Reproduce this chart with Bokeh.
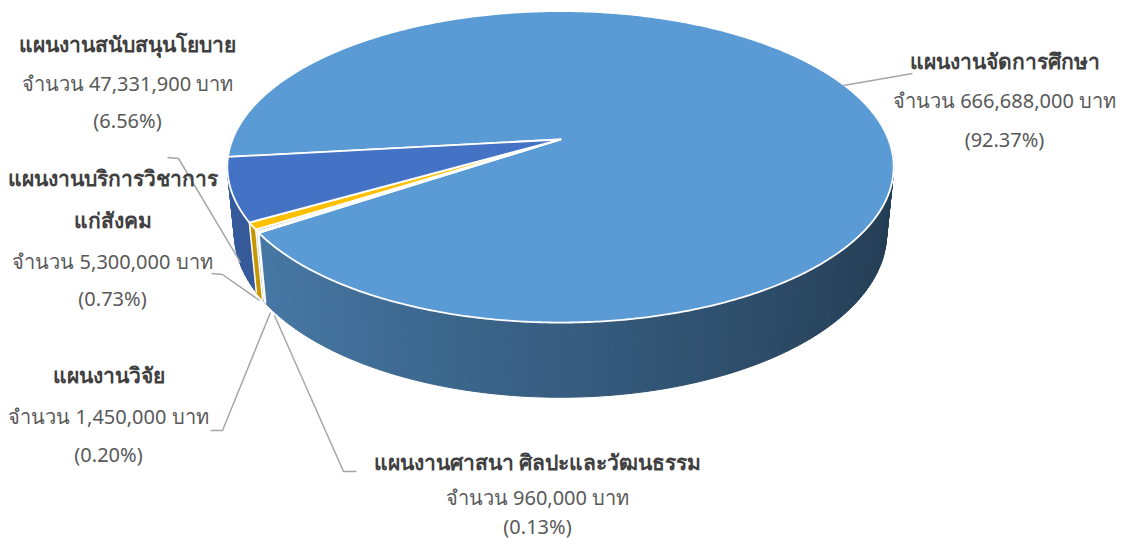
import numpy as np
from bokeh.plotting import figure
from bokeh.models import Range1d
from bokeh.embed import file_html
from bokeh.resources import INLINE
from bokeh.core.properties import value

# ---------------- data ----------------
titles = ["แผนงานจัดการศึกษา", "แผนงานศาสนา ศิลปะและวัฒนธรรม", "แผนงานวิจัย",
          "แผนงานบริการวิชาการ\nแก่สังคม", "แผนงานสนับสนุนโยบาย"]
amounts = [666688000, 960000, 1450000, 5300000, 47331900]
percents = [92.37, 0.13, 0.20, 0.73, 6.56]
colors = ["#5B9BD5", "#D0CECE", "#A5A5A5", "#FFC000", "#4472C4"]

# ---------------- layout / style ----------------
W, Hh = 1120, 543
FONT = value("Noto Sans")
TITLE_C = "#404040"
BODY_C = "#595959"
LEADER_C = "#A6A6A6"

# 3D projection parameters (pixel space)
CX, CY = 560.0, 139.0
S = 328.0
E = np.radians(27.4)
D = 5.06
DEPTH = 0.23
A0 = np.radians(263.5)


def proj(alpha, y=0.0, r=1.0):
    X = r * np.sin(alpha)
    Z = -r * np.cos(alpha)
    v = -Z * np.sin(E) + y * np.cos(E)
    w = Z * np.cos(E) + y * np.sin(E)
    sc = D / (D - w)
    return CX + S * X * sc, CY - S * v * sc


def shade(hexc, f):
    r, g, b = int(hexc[1:3], 16), int(hexc[3:5], 16), int(hexc[5:7], 16)
    return "#%02x%02x%02x" % tuple(max(0, min(255, int(round(c * f)))) for c in (r, g, b))


p = figure(width=W, height=Hh, output_backend="svg", toolbar_location=None,
           x_range=Range1d(0, W), y_range=Range1d(Hh, 0),
           min_border=0, border_fill_color="white", background_fill_color="white")
p.axis.visible = False
p.grid.visible = False
p.outline_line_color = None

vals = np.array(amounts, dtype=float)
frac = vals / vals.sum()
starts = A0 + 2 * np.pi * np.concatenate([[0], np.cumsum(frac)[:-1]])
ends = starts + 2 * np.pi * frac

# ---- side walls, split into thin segments, drawn back to front ----
segs = []
step = np.radians(1.0)
for i in range(len(vals)):
    a = starts[i]
    while a < ends[i] - 1e-9:
        b = min(a + step, ends[i])
        mid = 0.5 * (a + b)
        m = np.mod(mid, 2 * np.pi)
        if np.radians(60) < m < np.radians(300):
            x1, y1 = proj(a)
            x2, y2 = proj(b)
            x3, y3 = proj(b, -DEPTH)
            x4, y4 = proj(a, -DEPTH)
            X = np.sin(mid)
            f = 0.6 - 0.21 * X
            depth = -np.cos(mid)
            segs.append((depth, [x1, x2, x3, x4], [y1, y2, y3, y4], shade(colors[i], f)))
        a = b
segs.sort(key=lambda s: s[0])
p.patches([s[1] for s in segs], [s[2] for s in segs], fill_color=[s[3] for s in segs],
          line_color=[s[3] for s in segs], line_width=1)

# white seams at slice boundaries on the visible wall
for a in starts:
    m = np.mod(a, 2 * np.pi)
    if np.radians(100) < m < np.radians(260):
        x1, y1 = proj(a)
        x2, y2 = proj(a, -DEPTH)
        p.line([x1, x2], [y1, y2], line_color="white", line_width=1.5)

# ---- top faces ----
xs, ys = [], []
for i in range(len(vals)):
    n = max(3, int(np.degrees(ends[i] - starts[i]) * 2))
    aa = np.linspace(starts[i], ends[i], n)
    px, py = proj(aa)
    xs.append([CX] + list(px))
    ys.append([CY] + list(py))
p.patches(xs, ys, fill_color=colors, line_color="white", line_width=1.8, line_join="round")

# ---- leader lines ----
leaders = [
    ([843, 912], [85, 73]),
    ([167, 178, 240], [157, 158, 262]),
    ([211, 222, 259], [273, 274, 300]),
    ([210, 222, 270], [430, 430, 312]),
    ([274, 343, 356], [315, 471, 471]),
]
for lx, ly in leaders:
    p.line(lx, ly, line_color=LEADER_C, line_width=1.5)

# ---- labels ----
def fmt(a):
    return "จำนวน {:,} บาท".format(a)

label_pos = {
    0: (1004, [60], 100, 139),
    1: (537, [461], 497, 526),
    2: (108, [374], 416, 454),
    3: (112, [177, 219], 261, 298),
    4: (127, [43], 83, 120),
}
for i, (lx, tys, ay, py_) in label_pos.items():
    lines = titles[i].split("\n")
    for t, ty in zip(lines, tys):
        p.text([lx], [ty], text=[t], text_font=FONT, text_font_style="bold",
               text_font_size="21px", text_color=TITLE_C, text_align="center",
               text_baseline="middle")
    p.text([lx], [ay], text=[fmt(amounts[i])], text_font=FONT, text_font_size="20px",
           text_color=BODY_C, text_align="center", text_baseline="middle")
    p.text([lx], [py_], text=["({:.2f}%)".format(percents[i])], text_font=FONT,
           text_font_size="20px", text_color=BODY_C, text_align="center",
           text_baseline="middle")

open("out.html", "w").write(file_html(p, INLINE))
